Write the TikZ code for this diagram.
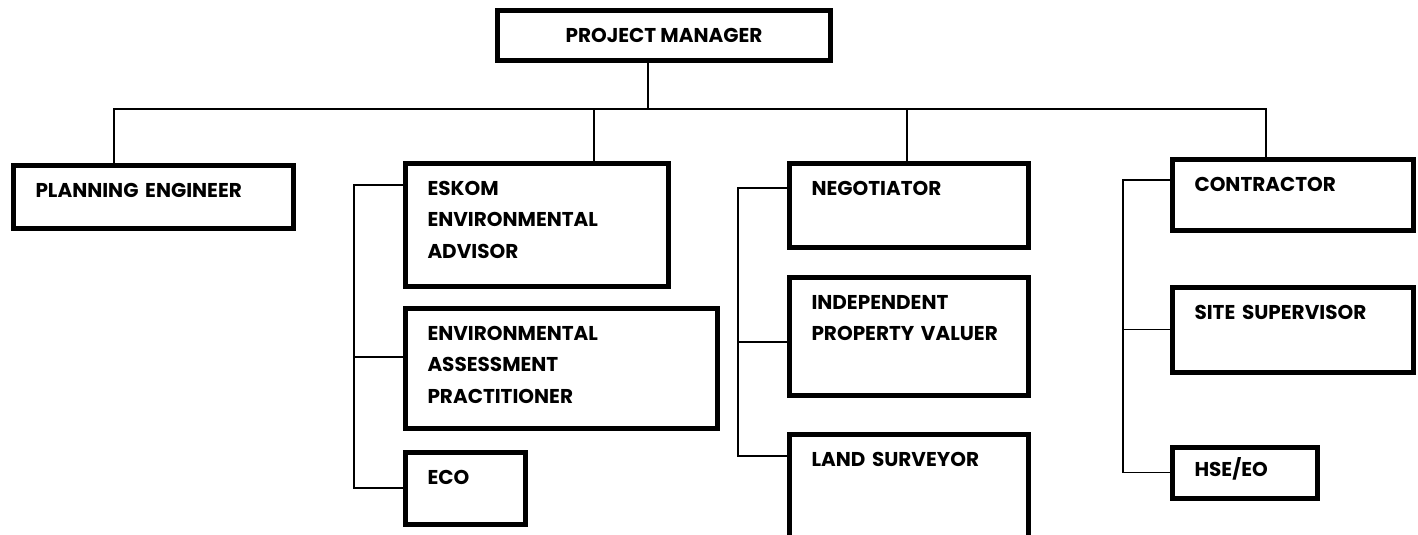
\documentclass[tikz,border=0pt]{standalone}
\usepackage{fontspec}
\setmainfont{Poppins}
\usepackage{tikz}
\usetikzlibrary{positioning}

\begin{document}
\begin{tikzpicture}[
    x=1pt, y=-1pt,
    post/.style={rectangle, draw, line width=5pt, anchor=north west, align=left,
                 font=\fontsize{20}{31.5}\selectfont\bfseries,
                 inner xsep=22.5pt, inner ysep=18pt, text height=14pt},
    link/.style={line width=1.7pt},
]
\useasboundingbox (0,0) rectangle (1418,535);

% top of the chart
\node[draw, line width=5pt, minimum width=333pt, minimum height=50pt,
      font=\fontsize{20}{31.5}\selectfont\bfseries] (pm) at (664,35.5) {PROJECT MANAGER};

% first level
\node[post, text width=235pt, text depth=13pt] (plan) at (10.5,162.5) {PLANNING ENGINEER};
\node[post, text width=218pt, text depth=73pt] (eskom) at (402.5,160.5) {ESKOM\\ENVIRONMENTAL\\ADVISOR};
\node[post, text width=194pt, text depth=34pt] (neg) at (786.5,160.5) {NEGOTIATOR};
\node[post, text width=196pt, text depth=21pt] (contr) at (1169.5,156.5) {CONTRACTOR};

% second level
\node[post, text width=267pt, text depth=70pt] (eap) at (402.5,305.5) {ENVIRONMENTAL\\ASSESSMENT\\PRACTITIONER};
\node[post, text width=75pt, text depth=22pt] (eco) at (402.5,449.5) {ECO};
\node[post, text width=194pt, text depth=68pt] (ipv) at (786.5,274.5) {INDEPENDENT\\PROPERTY VALUER};
\node[post, text width=194pt, text depth=60pt] (land) at (786.5,431.5) {LAND SURVEYOR};
\node[post, text width=196pt, text depth=35pt] (site) at (1169.5,284.5) {SITE SUPERVISOR};
\node[post, text width=100pt, text depth=7pt, inner ysep=15pt] (hse) at (1169.5,444.5) {HSE/EO};

% bus under the manager
\coordinate (bus) at (648,109);
\draw[link] (pm.south -| bus) -- (bus);
\draw[link] (plan.north -| 114,0) |- (bus);
\draw[link] (contr.north -| 1266,0) |- (bus);
\draw[link] (eskom.north -| 594,0) -- (bus -| 594,0);
\draw[link] (neg.north -| 907,0) -- (bus -| 907,0);

% side trunks
\coordinate (envtrunk) at (354,185);
\coordinate (negtrunk) at (738,188);
\coordinate (contrunk) at (1123,180);
\draw[link] (eskom.west |- envtrunk) -- (envtrunk) |- (eco.west);
\draw[link] (eap.west |- 0,357) -- (envtrunk |- 0,357);
\draw[link] (neg.west |- negtrunk) -- (negtrunk) |- (land.west |- 0,456);
\draw[link] (ipv.west |- 0,342) -- (negtrunk |- 0,342);
\draw[link] (contr.west |- contrunk) -- (contrunk) |- (hse.west);
\draw[link] (site.west) -- (site.west -| contrunk);
\end{tikzpicture}
\end{document}
